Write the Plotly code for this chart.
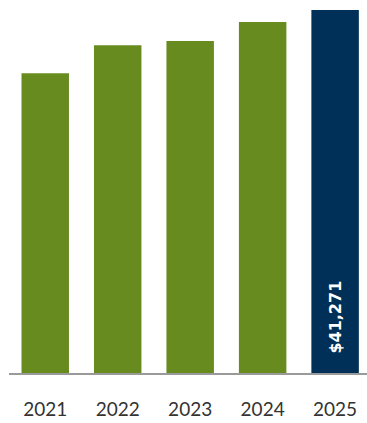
import plotly.graph_objects as go

years = ["2021", "2022", "2023", "2024", "2025"]
values = [34080, 37260, 37750, 39910, 41271]
bar_colors = ["#678B1F", "#678B1F", "#678B1F", "#678B1F", "#003057"]

fig = go.Figure(
    go.Bar(
        x=years,
        y=values,
        marker=dict(color=bar_colors, line=dict(width=0)),
        hoverinfo="skip",
    )
)

# value label for the latest year, written vertically inside its bar
fig.add_annotation(
    x=len(years) - 1,
    y=0,
    xref="x",
    yref="y",
    text="&#36;" + f"{values[-1]:,}",
    textangle=-90,
    showarrow=False,
    xanchor="center",
    yanchor="bottom",
    yshift=17,
    font=dict(family="DejaVu Sans", size=16, color="#FFFFFF", weight="bold"),
)

fig.update_layout(
    width=367,
    height=423,
    margin=dict(l=9, r=0, t=0, b=50),
    paper_bgcolor="white",
    plot_bgcolor="white",
    bargap=0.345,
    showlegend=False,
    xaxis=dict(
        type="category",
        range=[-0.5, 4.44],
        showline=True,
        linecolor="#9A9A9A",
        linewidth=2,
        ticks="",
        ticklabelstandoff=18,
        tickfont=dict(family="Lato", size=19, color="#333333"),
        showgrid=False,
        zeroline=False,
    ),
    yaxis=dict(
        range=[0, 42400],
        visible=False,
        showgrid=False,
        zeroline=False,
    ),
)

fig.write_html("out.html")
